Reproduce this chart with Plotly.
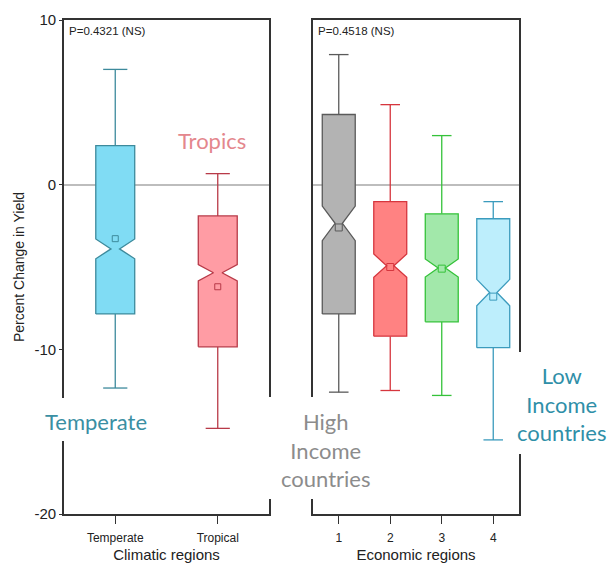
import plotly.graph_objects as go

# ---------------- data ----------------
clim_cats = ["Temperate", "Tropical"]
clim_lower = [-12.35, -14.8]
clim_q1 = [-7.85, -9.85]
clim_median = [-3.9, -5.35]
clim_q3 = [2.37, -1.9]
clim_upper = [7.0, 0.67]
clim_mean = [-3.28, -6.2]
clim_notch = [0.6, 0.5]

econ_cats = ["1", "2", "3", "4"]
econ_lower = [-12.6, -12.5, -12.8, -15.5]
econ_q1 = [-7.85, -9.2, -8.33, -9.9]
econ_median = [-2.35, -4.92, -5.06, -6.55]
econ_q3 = [4.26, -1.03, -1.77, -2.07]
econ_upper = [7.9, 4.86, 2.98, -1.03]
econ_mean = [-2.6, -5.0, -5.1, -6.8]
econ_notch = [1.05, 0.71, 0.55, 0.8]

y_ticks = [10, 0, -10, -20]
y_ticktext = ["10", "0", "-10", "-20"]

clim_fill = ["#80dcf4", "#ff9ca4"]
clim_line = ["#3d8a9c", "#b83a48"]
econ_fill = ["#b3b3b3", "#ff8282", "#a2e8aa", "#bdeefc"]
econ_line = ["#5a5a5a", "#d6363e", "#35c23a", "#3b9bbd"]

# ---------------- figure geometry ----------------
W, H = 609, 565
L, R, T, B = 64, 519, 20, 514


def px(x):
    return (x - L) / (R - L)


def py(y):
    return (B - y) / (B - T)


fig = go.Figure()


def add_group(xa, ya, lower, q1, med, q3, upper, mean, notch,
              fills, lines, half_w, cap_w, waist, msize):
    for i in range(len(q1)):
        c = i
        # whiskers and caps
        wx = [c, c, None, c - cap_w, c + cap_w, None,
              c, c, None, c - cap_w, c + cap_w]
        wy = [q3[i], upper[i], None, upper[i], upper[i], None,
              q1[i], lower[i], None, lower[i], lower[i]]
        fig.add_trace(go.Scatter(
            x=wx, y=wy, mode="lines", line=dict(color=lines[i], width=1.3),
            showlegend=False, hoverinfo="skip", xaxis=xa, yaxis=ya))
        # notched box
        lo_n, hi_n = med[i] - notch[i], med[i] + notch[i]
        bx = [c - half_w, c - half_w, c - half_w * waist, c - half_w,
              c - half_w, c + half_w, c + half_w, c + half_w * waist,
              c + half_w, c + half_w, c - half_w]
        by = [q1[i], lo_n, med[i], hi_n, q3[i], q3[i], hi_n, med[i],
              lo_n, q1[i], q1[i]]
        fig.add_trace(go.Scatter(
            x=bx, y=by, mode="lines", fill="toself", fillcolor=fills[i],
            line=dict(color=lines[i], width=1.3),
            showlegend=False, hoverinfo="skip", xaxis=xa, yaxis=ya))
        # mean marker
        fig.add_trace(go.Scatter(
            x=[c], y=[mean[i]], mode="markers",
            marker=dict(symbol="square-open", size=msize, color=lines[i],
                        line=dict(width=1)),
            showlegend=False, hoverinfo="skip", xaxis=xa, yaxis=ya))


add_group("x", "y", clim_lower, clim_q1, clim_median, clim_q3, clim_upper,
          clim_mean, clim_notch, clim_fill, clim_line,
          half_w=0.19, cap_w=0.118, waist=0.22, msize=6)
add_group("x2", "y2", econ_lower, econ_q1, econ_median, econ_q3, econ_upper,
          econ_mean, econ_notch, econ_fill, econ_line,
          half_w=0.32, cap_w=0.19, waist=0.22, msize=7)

axis_font = "Liberation Sans, Arial, sans-serif"
frame = dict(showline=True, linecolor="#333333", linewidth=1.6, mirror=True,
             showgrid=False, automargin=False)

fig.update_layout(
    width=W, height=H,
    margin=dict(l=L, r=W - R, t=T, b=H - B, pad=0, autoexpand=False),
    paper_bgcolor="white", plot_bgcolor="white",
    font=dict(family=axis_font, color="#222222"),
    xaxis=dict(domain=[0, px(269)], range=[-0.5, len(clim_cats) - 0.5],
               tickvals=list(range(len(clim_cats))), ticktext=clim_cats,
               ticks="outside", ticklen=8, tickcolor="#333333",
               ticklabelstandoff=4, zeroline=False,
               tickfont=dict(size=12),
               title=dict(text="Climatic regions", font=dict(size=15), standoff=5),
               **frame),
    yaxis=dict(range=[-20, 10], tickvals=y_ticks, ticktext=y_ticktext,
               ticks="outside", ticklen=3,
               tickcolor="#333333", tickfont=dict(size=15),
               zeroline=True, zerolinecolor="#bdbdbd", zerolinewidth=1.5,
               title=dict(text="Percent Change in Yield", font=dict(size=14),
                          standoff=7),
               **frame),
    xaxis2=dict(domain=[px(313), 1], range=[-0.5, len(econ_cats) - 0.5],
                tickvals=list(range(len(econ_cats))), ticktext=econ_cats,
                anchor="y2", zeroline=False,
                ticks="outside", ticklen=8, tickcolor="#333333",
                ticklabelstandoff=4,
                tickfont=dict(size=12),
                title=dict(text="Economic regions", font=dict(size=15), standoff=5),
                **frame),
    yaxis2=dict(range=[-20, 10], anchor="x2", tickvals=y_ticks,
                showticklabels=False, ticks="",
                zeroline=True, zerolinecolor="#bdbdbd", zerolinewidth=1.5,
                **frame),
)

# white panels behind the overlaid callout texts
for (x0, x1, y0, y1) in [(38, 154, 398, 441), (256, 386, 397, 499),
                          (514, 612, 352, 454)]:
    fig.add_shape(type="rect", xref="paper", yref="paper",
                  x0=px(x0), x1=px(x1), y0=py(y1), y1=py(y0),
                  fillcolor="white", line=dict(width=0), layer="above")

call_font = "Lato, Open Sans, sans-serif"
notes = [
    ("P=0.4321 (NS)", 67, 31, "left", 11.5, "#222222", axis_font),
    ("P=0.4518 (NS)", 316, 31, "left", 11.5, "#222222", axis_font),
    ("Tropics", 212, 140, "center", 22, "#e4878d", call_font),
    ("Temperate", 96, 421, "center", 22, "#3a8fa3", call_font),
    ("High<br>Income<br>countries", 325, 450, "center", 22, "#8c8c8c", call_font),
    ("Low<br>Income<br>countries", 561, 404, "center", 22, "#2f8fa8", call_font),
]
for text, x, y, anchor, size, color, fam in notes:
    fig.add_annotation(text=text, xref="paper", yref="paper",
                       x=px(x), y=py(y), xanchor=anchor, yanchor="middle",
                       showarrow=False, align="center",
                       font=dict(size=size, color=color, family=fam))

fig.write_html(
    "out.html",
    config={"displayModeBar": False},
    post_script="document.body.style.margin='0';"
                "document.body.style.overflow='hidden';"
                "document.documentElement.style.overflow='hidden';")
